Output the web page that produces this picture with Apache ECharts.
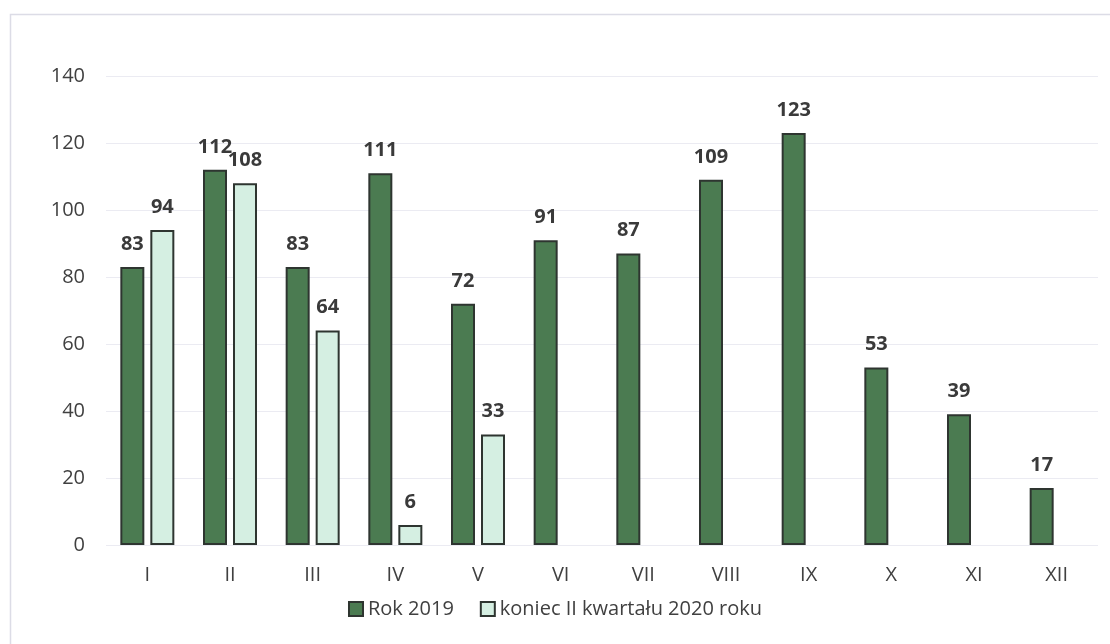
<!DOCTYPE html>
<html>
<head>
<meta charset="utf-8">
<script src="https://cdn.jsdelivr.net/npm/echarts@6/dist/echarts.min.js"></script>
<style>
html,body{margin:0;padding:0;background:#fff;}
#chart{width:1110px;height:644px;}
</style>
</head>
<body>
<div id="chart"></div>
<script>
const categories = ['I','II','III','IV','V','VI','VII','VIII','IX','X','XI','XII'];
const rok2019 = [83,112,83,111,72,91,87,109,123,53,39,17];
const kw2020 = [94,108,64,6,33,null,null,null,null,null,null,null];
const seriesNames = ['Rok 2019','koniec II kwartału 2020 roku'];
const yTicks = {min:0, max:140, interval:20};

const chart = echarts.init(document.getElementById('chart'));
const fontFam = '"Open Sans", Lato, sans-serif';
const labelCfg = {
  show:true, position:'top', distance:13,
  color:'#3a3a3a', fontFamily:fontFam, fontWeight:'bold', fontSize:20
};
chart.setOption({
  animation:false,
  graphic:[{
    type:'rect', left:8, top:12, shape:{width:1110, height:640},
    style:{fill:'none', stroke:'#dcdce6', lineWidth:1.5}, silent:true
  }],
  grid:{left:106, right:12, top:76, bottom:99},
  legend:{
    bottom:20, left:'center', itemGap:26, itemWidth:14, itemHeight:14,
    textStyle:{color:'#404040', fontFamily:fontFam, fontSize:20},
    data:[
      {name:seriesNames[0], icon:'rect'},
      {name:seriesNames[1], icon:'rect'}
    ]
  },
  xAxis:{
    type:'category', data:categories,
    axisLine:{show:false}, axisTick:{show:false},
    axisLabel:{color:'#404040', fontFamily:fontFam, fontSize:20, margin:20}
  },
  yAxis:{
    type:'value', min:yTicks.min, max:yTicks.max, interval:yTicks.interval,
    axisLine:{show:false}, axisTick:{show:false},
    splitLine:{lineStyle:{color:'#ebebf2', width:1}},
    axisLabel:{color:'#404040', fontFamily:fontFam, fontSize:20, margin:21}
  },
  series:[
    {
      name:seriesNames[0], type:'bar', data:rok2019,
      barWidth:24, barGap:'25%',
      itemStyle:{color:'#4b7b51', borderColor:'#2e3530', borderWidth:2},
      label:labelCfg
    },
    {
      name:seriesNames[1], type:'bar', data:kw2020,
      barWidth:24,
      itemStyle:{color:'#d5efe2', borderColor:'#2e3530', borderWidth:2},
      label:labelCfg
    }
  ]
});
</script>
</body>
</html>
